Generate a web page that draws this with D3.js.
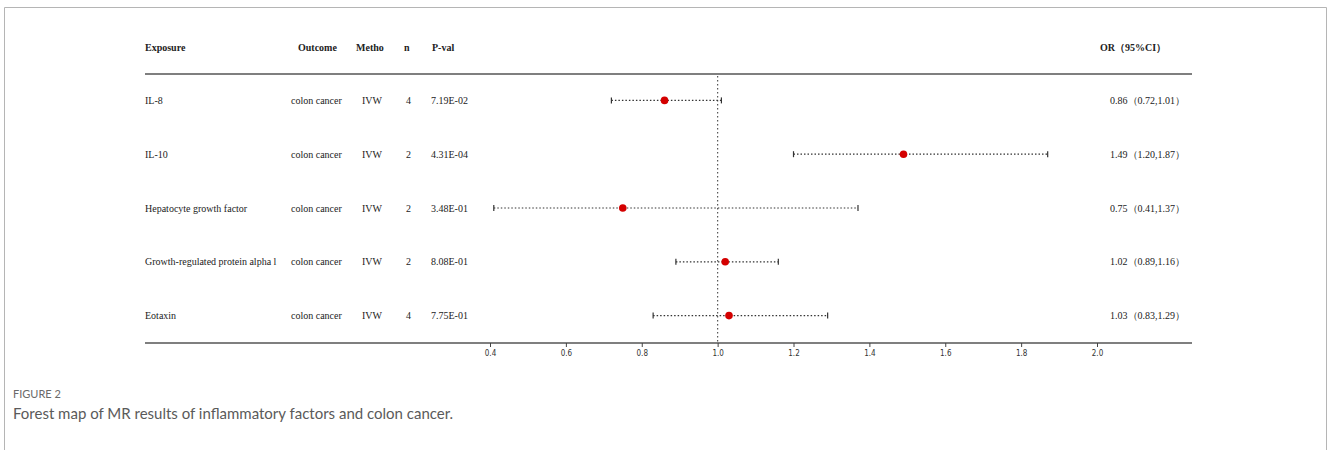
<!DOCTYPE html>
<html>
<head>
<meta charset="utf-8">
<script src="https://cdn.jsdelivr.net/npm/d3@7"></script>
<style>
  body { margin: 0; background: #fff; }
  svg { display: block; }
</style>
</head>
<body>
<svg id="chart" width="1328" height="450"></svg>
<script>
// Data
const exposures = ['IL-8', 'IL-10', 'Hepatocyte growth factor', 'Growth-regulated protein alpha l', 'Eotaxin'];
const outcomes = ['colon cancer', 'colon cancer', 'colon cancer', 'colon cancer', 'colon cancer'];
const methods = ['IVW', 'IVW', 'IVW', 'IVW', 'IVW'];
const nsnp = [4, 2, 2, 2, 4];
const pvals = ['7.19E-02', '4.31E-04', '3.48E-01', '8.08E-01', '7.75E-01'];
const or_vals = [0.86, 1.49, 0.75, 1.02, 1.03];
const lower = [0.72, 1.20, 0.41, 0.89, 0.83];
const upper = [1.01, 1.87, 1.37, 1.16, 1.29];
const ticks = [0.4, 0.6, 0.8, 1.0, 1.2, 1.4, 1.6, 1.8, 2.0];
const headers = ['Exposure', 'Outcome', 'Metho', 'n', 'P-val'];

const svg = d3.select('#chart');
const serif = '"Liberation Serif", "Times New Roman", serif';

// Frame of the figure panel
svg.append('path')
  .attr('d', 'M4.5,460 V7.5 H1326.5 V460')
  .attr('fill', 'none')
  .attr('stroke', '#b5b5b5')
  .attr('stroke-width', 1);

// Layout settings
const table_left = 145;
const table_right = 1192;
const top_rule = 74;
const bottom_rule = 343;
const col_x = [145, 291, 362, 406, 431];
const head_x = [145, 298, 356, 404, 432];
const or_x = 1110;

const x = d3.scaleLinear().domain([0.4, 2.0]).range([490, 1097]);
const y = d3.scaleBand()
  .domain(d3.range(exposures.length))
  .range([top_rule, bottom_rule])
  .paddingOuter(0);

const cy = (i) => y(i) + y.bandwidth() / 2 - 0.5;

// Header row
svg.append('g')
  .selectAll('text')
  .data(headers)
  .enter()
  .append('text')
  .attr('x', (d, i) => head_x[i])
  .attr('y', 51)
  .attr('font-family', serif)
  .attr('font-weight', 'bold')
  .attr('font-size', 10)
  .attr('fill', '#222')
  .text((d) => d);

svg.append('text')
  .attr('x', 1100)
  .attr('y', 51)
  .attr('font-family', serif)
  .attr('font-weight', 'bold')
  .attr('font-size', 10)
  .attr('fill', '#222')
  .text('OR\uFF0895%CI\uFF09');

// Top rule
svg.append('line')
  .attr('x1', table_left).attr('x2', table_right)
  .attr('y1', top_rule).attr('y2', top_rule)
  .attr('stroke', '#555')
  .attr('stroke-width', 1.6);

// Reference line at OR = 1
svg.append('line')
  .attr('x1', x(1)).attr('x2', x(1))
  .attr('y1', top_rule + 2).attr('y2', bottom_rule)
  .attr('stroke', '#555')
  .attr('stroke-width', 1.2)
  .attr('stroke-dasharray', '1.5,2.5');

// Table columns
const rows = svg.append('g')
  .selectAll('g')
  .data(d3.range(exposures.length))
  .enter()
  .append('g')
  .attr('font-family', serif)
  .attr('font-size', 10)
  .attr('fill', '#222');

const columns = [exposures, outcomes, methods, nsnp, pvals];
columns.forEach((col, c) => {
  rows.append('text')
    .attr('x', col_x[c])
    .attr('y', (i) => cy(i) + 3.5)
    .text((i) => col[i]);
});

rows.append('text')
  .attr('x', or_x)
  .attr('y', (i) => cy(i) + 3.5)
  .text((i) => `${or_vals[i].toFixed(2)}\uFF08${lower[i].toFixed(2)},${upper[i].toFixed(2)}\uFF09`);

// CI lines
rows.append('line')
  .attr('x1', (i) => x(lower[i]))
  .attr('x2', (i) => x(upper[i]))
  .attr('y1', cy)
  .attr('y2', cy)
  .attr('stroke', '#333')
  .attr('stroke-width', 1.2)
  .attr('stroke-dasharray', '1.5,2');

// End caps
[lower, upper].forEach((arr) => {
  rows.append('line')
    .attr('x1', (i) => x(arr[i]))
    .attr('x2', (i) => x(arr[i]))
    .attr('y1', (i) => cy(i) - 3)
    .attr('y2', (i) => cy(i) + 3)
    .attr('stroke', '#333')
    .attr('stroke-width', 1.2);
});

// Point estimates
rows.append('circle')
  .attr('cx', (i) => x(or_vals[i]))
  .attr('cy', cy)
  .attr('r', 3.8)
  .attr('fill', '#d40000');

// Bottom rule / axis
svg.append('line')
  .attr('x1', table_left).attr('x2', table_right)
  .attr('y1', bottom_rule).attr('y2', bottom_rule)
  .attr('stroke', '#555')
  .attr('stroke-width', 1.6);

const axis = d3.axisBottom(x)
  .tickValues(ticks)
  .tickFormat(d3.format('.1f'))
  .tickSize(4)
  .tickPadding(3);

const ax = svg.append('g')
  .attr('transform', `translate(0,${bottom_rule})`)
  .call(axis);
ax.select('.domain').remove();
ax.selectAll('line').attr('stroke', '#444');
ax.selectAll('text')
  .attr('font-family', '"DejaVu Sans Condensed", "DejaVu Sans", sans-serif')
  .attr('font-size', 8)
  .attr('fill', '#333');

// Caption
svg.append('text')
  .attr('x', 13)
  .attr('y', 398)
  .attr('font-family', 'Lato, "Open Sans", sans-serif')
  .attr('font-size', 11)
  .attr('fill', '#6a6a6a')
  .text('FIGURE 2');

svg.append('text')
  .attr('x', 13)
  .attr('y', 419)
  .attr('font-family', 'Lato, "Open Sans", sans-serif')
  .attr('font-size', 15)
  .attr('fill', '#5a5a5a')
  .text('Forest map of MR results of inflammatory factors and colon cancer.');
</script>
</body>
</html>
